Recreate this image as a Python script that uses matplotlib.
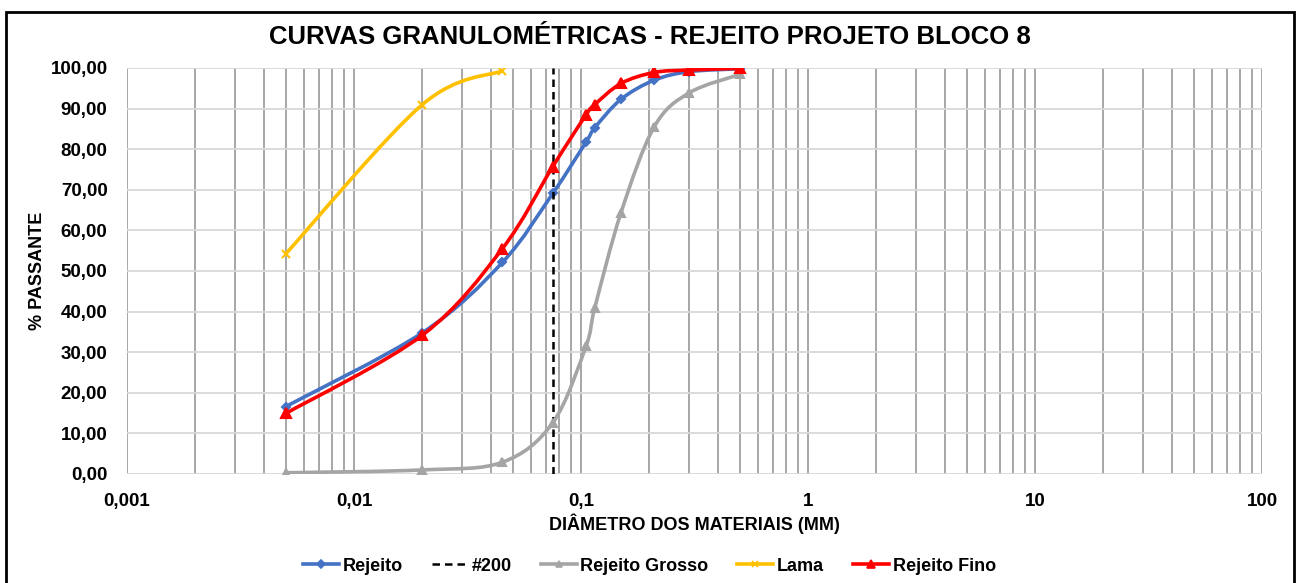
import matplotlib
matplotlib.use("Agg")
import matplotlib.pyplot as plt
import numpy as np
from matplotlib.path import Path
from matplotlib.patches import PathPatch, Rectangle
from matplotlib.lines import Line2D
from matplotlib.ticker import FixedLocator, FuncFormatter, LogLocator, NullFormatter

plt.rcParams["font.family"] = ["Liberation Sans", "DejaVu Sans"]
plt.rcParams["font.weight"] = "bold"
plt.rcParams["axes.labelweight"] = "bold"

# diameters (mm) and % passing
DIAM = [0.005, 0.02, 0.045, 0.075, 0.105, 0.115, 0.15, 0.21, 0.3, 0.5]
REJEITO = [16.6, 34.8, 52.1, 69.1, 81.7, 85.3, 92.3, 97.0, 99.1, 99.8]
GROSSO = [0.3, 1.0, 2.9, 12.6, 31.4, 41.0, 64.4, 85.5, 93.9, 98.4]
FINO = [14.9, 34.2, 55.5, 75.7, 88.4, 91.0, 96.2, 98.9, 99.5, 99.9]
LAMA_D = [0.005, 0.02, 0.045]
LAMA = [54.2, 91.0, 99.3]
PENEIRA_200 = 0.075
X_TICKS = [0.001, 0.01, 0.1, 1, 10, 100]
X_LABELS = ["0,001", "0,01", "0,1", "1", "10", "100"]
Y_TICKS = list(range(0, 101, 10))


def smooth_path(xs, ys):
    # Excel-style smoothed line: cubic Bezier through the points (log-x space)
    u = np.log10(np.asarray(xs, float))
    v = np.asarray(ys, float)
    n = len(u)
    verts = [(u[0], v[0])]
    codes = [Path.MOVETO]
    for i in range(n - 1):
        i0, i3 = max(i - 1, 0), min(i + 2, n - 1)
        c1 = (u[i] + (u[i + 1] - u[i0]) / 6, v[i] + (v[i + 1] - v[i0]) / 6)
        c2 = (u[i + 1] - (u[i3] - u[i]) / 6, v[i + 1] - (v[i3] - v[i]) / 6)
        verts += [c1, c2, (u[i + 1], v[i + 1])]
        codes += [Path.CURVE4] * 3
    verts = np.array(verts)
    verts[:, 0] = 10 ** verts[:, 0]
    return Path(verts, codes)


fig = plt.figure(figsize=(12.99, 5.83), dpi=100)
ax = fig.add_axes([0.0978, 0.187, 0.8738, 0.6964])

series = [
    ("Rejeito", DIAM, REJEITO, "#4472C4", "D", 4.5),
    ("Rejeito Grosso", DIAM, GROSSO, "#A5A5A5", "^", 5.5),
    ("Lama", LAMA_D, LAMA, "#FFC000", "x", 6),
    ("Rejeito Fino", DIAM, FINO, "#FF0000", "^", 7.5),
]

handles = []
for k, (name, xs, ys, col, mk, ms) in enumerate(series):
    z = 3 + k
    ax.add_patch(PathPatch(smooth_path(xs, ys), facecolor="none", edgecolor=col,
                           lw=2.6, zorder=z, capstyle="round", joinstyle="round"))
    ax.plot(xs, ys, ls="none", marker=mk, ms=ms, color=col, mec=col, mew=1.5, zorder=z)
    handles.append(Line2D([], [], color=col, lw=2.6, marker=mk, ms=ms * 0.8, mew=1.2))
    if name == "Rejeito":
        ax.plot([PENEIRA_200, PENEIRA_200], [0, 100], color="black", ls=(0, (3, 2)),
                lw=1.8, zorder=3.5)
        handles.append(Line2D([], [], color="black", ls=(0, (3, 2)), lw=1.8))

labels = ["Rejeito", "#200", "Rejeito Grosso", "Lama", "Rejeito Fino"]

ax.set_xscale("log")
ax.set_xlim(0.001, 100)
ax.set_ylim(0, 100)
ax.xaxis.set_major_locator(FixedLocator(X_TICKS))
ax.xaxis.set_major_formatter(FuncFormatter(lambda v, p: X_LABELS[X_TICKS.index(v)] if v in X_TICKS else ""))
ax.xaxis.set_minor_locator(LogLocator(base=10, subs=np.arange(2, 10), numticks=50))
ax.xaxis.set_minor_formatter(NullFormatter())
ax.yaxis.set_major_locator(FixedLocator(Y_TICKS))
ax.yaxis.set_major_formatter(FuncFormatter(lambda v, p: f"{v:.2f}".replace(".", ",")))
ax.tick_params(which="both", length=0, labelsize=13.5)
ax.tick_params(axis="x", pad=14)
ax.tick_params(axis="y", pad=14)
ax.grid(True, axis="x", which="both", color="#A0A0A0", lw=1.3, zorder=0)
ax.grid(True, axis="y", which="major", color="#D9D9D9", lw=1.3, zorder=0)
for s in ax.spines.values():
    s.set_visible(False)
ax.set_axisbelow(True)

ax.set_xlabel("DIÂMETRO DOS MATERIAIS (MM)", fontsize=13, labelpad=2)
ax.set_ylabel("% PASSANTE", fontsize=13, labelpad=3)
fig.text(0.5, 0.936, "CURVAS GRANULOMÉTRICAS - REJEITO PROJETO BLOCO 8",
         ha="center", va="center", fontsize=18.5)

fig.legend(handles, labels, loc="center", bbox_to_anchor=(0.5, 0.029), ncol=5,
           frameon=False, fontsize=13, handlelength=2.0, handletextpad=0.2,
           columnspacing=1.6)

fig.add_artist(Rectangle((0.005, -0.02), 0.991, 1.0, transform=fig.transFigure,
                         fill=False, edgecolor="black", lw=2))

fig.savefig("out.png", dpi=100)
